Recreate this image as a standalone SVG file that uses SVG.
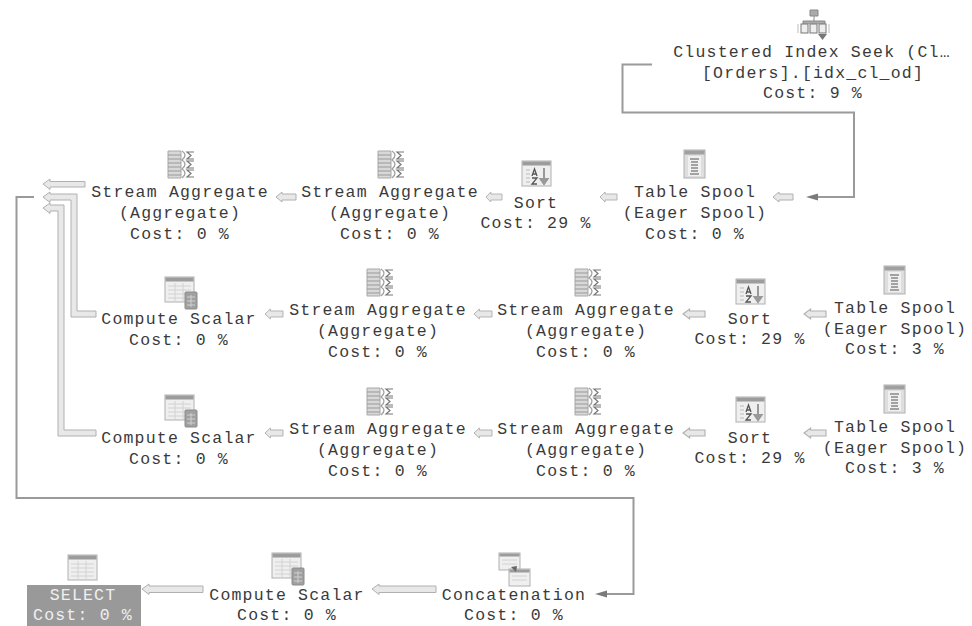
<svg xmlns="http://www.w3.org/2000/svg" width="972" height="626" viewBox="0 0 972 626">
<style>
text{font-family:"Liberation Mono","DejaVu Sans Mono",monospace;font-size:16.5px;letter-spacing:1.2px;fill:#3a3a3a;text-anchor:middle}
.hollow{fill:#e8e8e8;stroke:#b0b0b0;stroke-width:1}
.line{fill:none;stroke:#9a9a9a;stroke-width:2}
.tip{fill:#7a7a7a}
.frame{fill:#efefef;stroke:#b0b0b0}
.head{fill:#9c9c9c}
.grid{stroke:#d2d2d2;stroke-width:1;fill:none}
.lt{fill:#f0f0f0}
</style>
<defs>
<path id="a" class="hollow" d="M0 0L6 -5V-3H20V3H6V5Z"/>
<g id="table">
<rect class="frame" x="0" y="0" width="29" height="25"/><rect class="head" x="0.5" y="0.5" width="28" height="4"/>
<path class="grid" d="M3 9H26M3 13H26M3 17H26M3 21H26M10 6V24M18 6V24"/>
</g>
<g id="calc"><use href="#table"/><rect x="20" y="15" width="12" height="17" rx="1" fill="#a0a0a0" stroke="#8c8c8c"/><path d="M22 20H30M22 24H30M22 28H30M26 18V30" stroke="#d0d0d0" fill="none"/></g>
<g id="agg">
<path d="M1 1H14V28H1Z" fill="#d8d8d8" stroke="#a8a8a8"/><path d="M1 5H14M1 9H14M1 13H14M1 17H14M1 21H14M1 25H14" stroke="#999" fill="none"/>
<path d="M15 1Q21 5 15 10Q21 14 15 19Q21 23 15 28" stroke="#a0a0a0" stroke-width="1.300" fill="none"/>
<path d="M27 2H20L24 5.500L20 9H27M27 11H20L24 14.500L20 18H27M27 20H20L24 23.500L20 27H27" stroke="#777" stroke-width="1.200" fill="none"/>
</g>
<g id="sort">
<rect class="frame" x="0" y="0" width="29" height="25"/><rect class="head" x="0.5" y="0.5" width="28" height="4"/>
<path d="M4 9H8M4 13H8M4 17H8M4 21H8" stroke="#bbb"/>
<path d="M10 15L12.500 8L15 15M11 13H14M10 17H15L10 23H15" stroke="#555" stroke-width="1.300" fill="none"/>
<path d="M22 7V19M18.500 18L22 23L25.500 18Z" stroke="#999" stroke-width="2" fill="#999"/>
</g>
<g id="spool">
<rect x="0" y="0" width="21" height="28" fill="#dedede" stroke="#b0b0b0"/><rect x="0.500" y="0.500" width="20" height="4" fill="#a0a0a0"/>
<rect x="4" y="6" width="13" height="20" fill="#f0f0f0"/>
<path d="M6 9H15M7 12H14M7 15H14M7 18H14M7 21H14M6 24H15" stroke="#888" stroke-width="1.500"/>
</g>
</defs>

<g id="connectors">
<path class="line" d="M652 64.500H622.500V112.500H854V197H812"/><path class="tip" d="M806 197L818 193.500V200.500Z"/>
<path class="line" d="M34 197H16.500V498H633.500V594H601"/><path class="tip" d="M595 594L607 590.500V597.500Z"/>
<path class="hollow" d="M43 184L50 179V181.500H85V187H50V189.500Z"/>
<path class="hollow" d="M43 197L50 192V194H77V311H96V317H71V200H50V202.500Z"/>
<path class="hollow" d="M43 208L50 203V205H64V430H96V436H58V211H50V213.500Z"/>
<use href="#a" transform="translate(276 197)"/>
<use href="#a" transform="translate(486 197) scale(.8 1)"/>
<use href="#a" transform="translate(600 197) scale(.85 1)"/>
<use href="#a" transform="translate(773 197)"/>
<use href="#a" transform="translate(265 314) scale(.9 1)"/>
<use href="#a" transform="translate(474 314) scale(.9 1)"/>
<use href="#a" transform="translate(683 314) scale(1.100 1)"/>
<use href="#a" transform="translate(804 314) scale(1.100 1)"/>
<use href="#a" transform="translate(265 433) scale(.9 1)"/>
<use href="#a" transform="translate(474 433) scale(.9 1)"/>
<use href="#a" transform="translate(683 433) scale(1.100 1)"/>
<use href="#a" transform="translate(804 433) scale(1.100 1)"/>
<path class="hollow" d="M142 589L149 584V586H203V592.500H149V594.500Z"/>
<path class="hollow" d="M372 589L379 584V586H436V592.500H379V594.500Z"/>
</g>

<g id="seek">
<g transform="translate(798 10)">
<path d="M12 0H20V6H12ZM16 6V11M5 14V11H27V14" stroke="#888" fill="#aaa"/>
<rect x="3" y="14" width="7" height="9" fill="#eee" stroke="#777"/><rect x="12" y="14" width="7" height="9" fill="#eee" stroke="#777"/><rect x="21" y="14" width="7" height="9" fill="#eee" stroke="#777"/>
<path d="M0 14V23M31 14V23" stroke="#bbb"/><path d="M20 24H29L24.500 30Z" fill="#777"/>
</g>
<text x="812" y="57">Clustered Index Seek (Cl…</text><text x="813" y="78">[Orders].[idx_cl_od]</text><text x="813" y="98">Cost: 9 %</text>
</g>
<g id="agg1"><use href="#agg" x="167" y="150"/><text x="180" y="197">Stream Aggregate</text><text x="180" y="218">(Aggregate)</text><text x="180" y="239">Cost: 0 %</text></g>
<g id="agg2"><use href="#agg" x="377" y="150"/><text x="390" y="197">Stream Aggregate</text><text x="390" y="218">(Aggregate)</text><text x="390" y="239">Cost: 0 %</text></g>
<g id="sort1"><use href="#sort" x="522" y="161"/><text x="536" y="208">Sort</text><text x="536" y="228">Cost: 29 %</text></g>
<g id="spool1"><use href="#spool" x="684" y="150"/><text x="695" y="197">Table Spool</text><text x="695" y="218">(Eager Spool)</text><text x="695" y="239">Cost: 0 %</text></g>

<g id="calc2"><use href="#calc" x="165" y="277"/><text x="179" y="324">Compute Scalar</text><text x="179" y="345">Cost: 0 %</text></g>
<g id="agg3"><use href="#agg" x="366" y="268"/><text x="378" y="315">Stream Aggregate</text><text x="378" y="336">(Aggregate)</text><text x="378" y="357">Cost: 0 %</text></g>
<g id="agg4"><use href="#agg" x="574" y="268"/><text x="586" y="315">Stream Aggregate</text><text x="586" y="336">(Aggregate)</text><text x="586" y="357">Cost: 0 %</text></g>
<g id="sort2"><use href="#sort" x="736" y="279"/><text x="750" y="324">Sort</text><text x="750" y="344">Cost: 29 %</text></g>
<g id="spool2"><use href="#spool" x="884" y="266"/><text x="895" y="313">Table Spool</text><text x="895" y="334">(Eager Spool)</text><text x="895" y="354">Cost: 3 %</text></g>

<g id="calc3"><use href="#calc" x="165" y="395"/><text x="179" y="443">Compute Scalar</text><text x="179" y="464">Cost: 0 %</text></g>
<g id="agg5"><use href="#agg" x="366" y="387"/><text x="378" y="434">Stream Aggregate</text><text x="378" y="455">(Aggregate)</text><text x="378" y="476">Cost: 0 %</text></g>
<g id="agg6"><use href="#agg" x="574" y="387"/><text x="586" y="434">Stream Aggregate</text><text x="586" y="455">(Aggregate)</text><text x="586" y="476">Cost: 0 %</text></g>
<g id="sort3"><use href="#sort" x="736" y="397"/><text x="750" y="443">Sort</text><text x="750" y="463">Cost: 29 %</text></g>
<g id="spool3"><use href="#spool" x="884" y="385"/><text x="895" y="432">Table Spool</text><text x="895" y="453">(Eager Spool)</text><text x="895" y="473">Cost: 3 %</text></g>

<g id="select"><use href="#table" x="68" y="555"/><rect x="27" y="585" width="114" height="41" fill="#999"/><text x="83" y="600" style="fill:#f0f0f0">SELECT</text><text x="83" y="620" style="fill:#f0f0f0">Cost: 0 %</text></g>
<g id="calc1"><use href="#calc" x="272" y="553"/><text x="287" y="600">Compute Scalar</text><text x="287" y="620">Cost: 0 %</text></g>
<g id="concat">
<rect class="frame" x="499" y="553" width="21" height="17"/><rect class="head" x="499.500" y="553.500" width="20" height="3"/><path class="grid" d="M502 560H517M502 564H517"/>
<rect class="frame" x="509" y="569" width="21" height="17"/><rect class="head" x="509.500" y="569.500" width="20" height="3"/><path class="grid" d="M512 576H527M512 580H527"/>
<path d="M511 567L516 572L517 566Z" fill="#666"/>
<text x="514" y="600">Concatenation</text><text x="514" y="620">Cost: 0 %</text></g>
</svg>
